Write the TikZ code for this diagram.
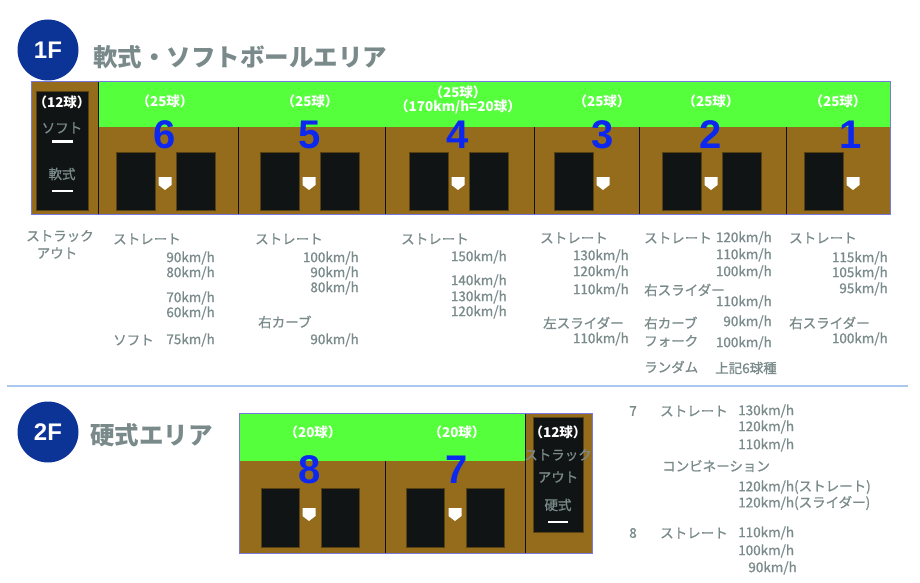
\documentclass[tikz,border=0pt]{standalone}
\usepackage{fontspec}
\setmainfont{Noto Sans CJK JP}
\newfontfamily\numfont{Liberation Sans}
\newfontfamily\specfont{Noto Sans CJK JP}[FakeBold=1]
\usetikzlibrary{positioning}

\definecolor{turf}{RGB}{85,255,60}
\definecolor{dirt}{RGB}{148,108,28}
\definecolor{padblack}{RGB}{17,20,20}
\definecolor{laneblue}{RGB}{12,40,240}
\definecolor{navy}{RGB}{12,52,150}
\definecolor{greytxt}{RGB}{122,138,138}
\definecolor{rim}{RGB}{120,120,225}
\definecolor{rulecol}{RGB}{170,200,238}

\begin{document}
\begin{tikzpicture}[
  x=1pt,y=-1pt,
  floor/.style={circle,fill=navy,text=white,minimum size=61pt,inner sep=0pt,
                font=\numfont\bfseries\fontsize{24}{24}\selectfont},
  areatitle/.style={anchor=west,inner sep=0pt,text=greytxt,
                font=\fontsize{24.5}{26}\selectfont\bfseries},
  count/.style={inner sep=0pt,text=white,align=center,
                font=\fontsize{13.5}{15}\selectfont\bfseries},
  lanenum/.style={inner sep=0pt,text=laneblue,
                font=\numfont\bfseries\fontsize{40}{40}\selectfont},
  spec/.style={inner sep=0pt,text=greytxt,font=\specfont\fontsize{13.5}{15}\selectfont},
  pad/.style={fill=padblack,draw=dirt!60!black,line width=0.6pt},
  divider/.style={draw=padblack,line width=1pt},
  barmark/.style={draw=white,line width=2.5pt},
  plate/.pic={\fill[white] (-6.5,0) -- (6.5,0) -- (6.5,8) -- (0,13) -- (-6.5,8) -- cycle;}
]
\useasboundingbox (0,0) rectangle (920,583);

% ---- 1F ----
\node[floor] (f1) at (48,50) {1F};
\node[areatitle] (t1) at (93,57) {軟式・ソフトボールエリア};

\fill[dirt] (31,82) rectangle (890,214);
\fill[turf] (98,82) rectangle (890,127);
\draw[pad] (36,91) rectangle (88,210);
\draw[divider] (98,82) -- (98,214);
\foreach \xd in {238,385,534,639,786}
  \draw[divider] (\xd,127) -- (\xd,214);
\draw[rim,line width=1pt] (31,82) rectangle (890,214);

% batting pads
\foreach \xa in {116,176,260,320,409,469,554,662,722,804}
  \draw[pad] (\xa,152) rectangle ++(39,58);
\foreach \xp in {165,309,458,603,711,853}
  \pic at (\xp,177) {plate};

% lane numbers and counts
\node[lanenum] (n6) at (165,135) {6};
\node[lanenum] (n5) at (310,135) {5};
\node[lanenum] (n4) at (458,135) {4};
\node[lanenum] (n3) at (603,135) {3};
\node[lanenum] (n2) at (711,135) {2};
\node[lanenum] (n1) at (851,135) {1};
\node[count] (c6) at (165,101) {（25球）};
\node[count] (c5) at (310,101) {（25球）};
\node[count] (c4a) at (458,92) {（25球）};
\node[count] (c4b) at (458,107) {（170km/h=20球）};
\node[count] (c3) at (602,101) {（25球）};
\node[count] (c2) at (711,101) {（25球）};
\node[count] (c1) at (838,101) {（25球）};

% strike-out box 1F
\node[count] (so1c) at (62,102) {（12球）};
\node[spec] (so1a) at (62,128) {ソフト};
\draw[barmark] (52,141.5) -- (73,141.5);
\node[spec] (so1b) at (62,174) {軟式};
\draw[barmark] (52,191) -- (73,191);
\node[spec] (so1t) at (60,236) {ストラック};
\node[spec] (so1u) at (57,253) {アウト};

% lane 6 menu
\node[spec,anchor=west] (l6st) at (113,239) {ストレート};
\foreach \v/\y in {90/258,80/273,70/298,60/313}
  \node[spec,anchor=east] (l6v\y) at (215,\y) {\v km/h};
\node[spec,anchor=west] (l6so) at (113,340) {ソフト};
\node[spec,anchor=east] (l6sv) at (215,340) {75km/h};

% lane 5 menu
\node[spec,anchor=west] (l5st) at (255,239) {ストレート};
\foreach \v/\y in {100/258,90/273,80/288}
  \node[spec,anchor=east] (l5v\y) at (359,\y) {\v km/h};
\node[spec,anchor=west] (l5cv) at (258,322) {右カーブ};
\node[spec,anchor=east] (l5cs) at (359,340) {90km/h};

% lane 4 menu
\node[spec,anchor=west] (l4st) at (401,239) {ストレート};
\foreach \v/\y in {150/257,140/281,130/297,120/312}
  \node[spec,anchor=east] (l4v\y) at (507,\y) {\v km/h};

% lane 3 menu
\node[spec,anchor=west] (l3st) at (540,238) {ストレート};
\foreach \v/\y in {130/256,120/272,110/290}
  \node[spec,anchor=east] (l3v\y) at (629,\y) {\v km/h};
\node[spec,anchor=west] (l3sl) at (543,323) {左スライダー};
\node[spec,anchor=east] (l3ss) at (629,339) {110km/h};

% lane 2 menu
\node[spec,anchor=west] (l2st) at (644,238) {ストレート};
\foreach \v/\y in {120/238,110/255,100/272}
  \node[spec,anchor=east] (l2v\y) at (772,\y) {\v km/h};
\node[spec,anchor=west] (l2sl) at (644,290) {右スライダー};
\node[spec,anchor=east] (l2ss) at (772,302) {110km/h};
\node[spec,anchor=west] (l2cv) at (644,323) {右カーブ};
\node[spec,anchor=east] (l2cs) at (772,322) {90km/h};
\node[spec,anchor=west] (l2fk) at (644,341) {フォーク};
\node[spec,anchor=east] (l2fs) at (772,343) {100km/h};
\node[spec,anchor=west] (l2rd) at (644,367) {ランダム};
\node[spec,anchor=west] (l2rs) at (715,368) {上記6球種};

% lane 1 menu
\node[spec,anchor=west] (l1st) at (789,238) {ストレート};
\foreach \v/\y in {115/258,105/273,95/289}
  \node[spec,anchor=east] (l1v\y) at (888,\y) {\v km/h};
\node[spec,anchor=west] (l1sl) at (789,323) {右スライダー};
\node[spec,anchor=east] (l1ss) at (888,339) {100km/h};

\draw[rulecol,line width=1.2pt] (7,386) -- (908,386);

% ---- 2F ----
\node[floor] (f2) at (48,432) {2F};
\node[areatitle] (t2) at (90,435) {硬式エリア};

\fill[dirt] (239,413) rectangle (592,553);
\fill[turf] (239,413) rectangle (525,461);
\draw[pad] (533,417) rectangle (583,532);
\draw[divider] (385,461) -- (385,553);
\draw[divider] (525,413) -- (525,553);
\draw[rim,line width=1pt] (239,413) rectangle (592,553);
\foreach \xa in {261,321,406,466}
  \draw[pad] (\xa,488) rectangle ++(38,59);
\foreach \xp in {309,455}
  \pic at (\xp,508) {plate};

\node[lanenum] (n8) at (310,470) {8};
\node[lanenum] (n7) at (457,470) {7};
\node[count] (c8) at (313,432) {（20球）};
\node[count] (c7) at (457,432) {（20球）};

% strike-out box 2F
\node[count] (so2c) at (558,432) {（12球）};
\node[spec] (so2t) at (558,455) {ストラック};
\node[spec] (so2u) at (558,477) {アウト};
\node[spec] (so2b) at (558,505) {硬式};
\draw[barmark] (548,522) -- (568,522);

% 2F menu
\node[spec] (m7) at (633,411) {7};
\node[spec,anchor=west] (m7st) at (660,411) {ストレート};
\foreach \v/\y in {130/411,120/427,110/445}
  \node[spec,anchor=west] (m7v\y) at (738,\y) {\v km/h};
\node[spec,anchor=west] (m7cb) at (662,466) {コンビネーション};
\node[spec,anchor=west] (m7c1) at (738,487) {120km/h(ストレート)};
\node[spec,anchor=west] (m7c2) at (738,503) {120km/h(スライダー)};
\node[spec] (m8) at (633,533) {8};
\node[spec,anchor=west] (m8st) at (660,533) {ストレート};
\node[spec,anchor=west] (m8v1) at (738,533) {110km/h};
\node[spec,anchor=west] (m8v2) at (738,551) {100km/h};
\node[spec,anchor=east] (m8v3) at (797,568) {90km/h};
\end{tikzpicture}
\end{document}
